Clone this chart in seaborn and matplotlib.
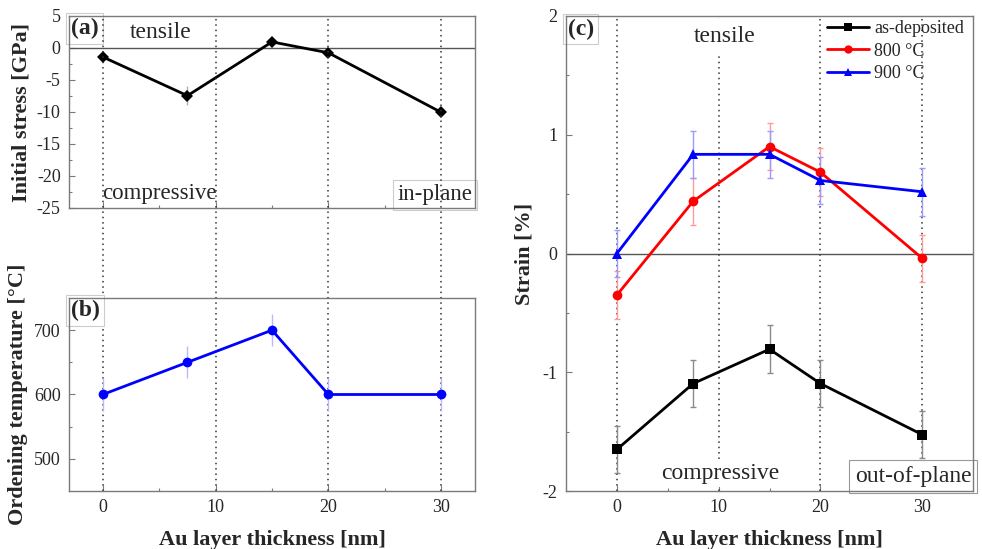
import numpy as np
import pandas as pd
import matplotlib
matplotlib.use("Agg")
import matplotlib.pyplot as plt
import seaborn as sns

# ---------------- data ----------------
thickness = [0, 7.5, 15, 20, 30]
stress = [-1.4, -7.45, 0.95, -0.75, -10.05]
stress_err = [0.3, 1.5, 0.3, 0.4, 0.3]
order_temp = [600, 650, 700, 600, 600]
order_temp_err = [25, 25, 25, 25, 25]
strain_asdep = [-1.65, -1.095, -0.806, -1.095, -1.525]
strain_800 = [-0.35, 0.44, 0.90, 0.685, -0.04]
strain_900 = [0.0, 0.835, 0.835, 0.615, 0.52]
strain_err = [0.2, 0.2, 0.2, 0.2, 0.2]
series_names = ["as-deposited", "800 °C", "900 °C"]
guide_x = [0, 10, 20, 30]

sns.set_theme(style="white")
plt.rcParams['font.family'] = ['Liberation Serif', 'DejaVu Serif']
plt.rcParams['axes.unicode_minus'] = False

SPINE = '#7a7a7a'
W, H = 982, 549
fig = plt.figure(figsize=(W / 100, H / 100), dpi=100)

def frac(l, t, r, b):
    return [l / W, 1 - b / H, (r - l) / W, (b - t) / H]

ax_a = fig.add_axes(frac(69, 16, 475, 208))
ax_b = fig.add_axes(frac(69, 298, 475, 491))
ax_c = fig.add_axes(frac(566, 16, 973, 491))

def style(ax):
    for s in ax.spines.values():
        s.set_color(SPINE)
        s.set_linewidth(1.0)
        s.set_zorder(6)
    ax.tick_params(which='both', direction='in', color=SPINE, labelsize=13,
                   bottom=True, left=True, top=False, right=False, pad=6)
    ax.tick_params(which='major', length=4, width=0.8)
    ax.tick_params(which='minor', length=2.5, width=0.8)

dot_kw = dict(color='#333333', linestyle=(0, (1, 2.5)), linewidth=1.1, zorder=1)
box_kw = dict(boxstyle='square,pad=0.2', facecolor='white', edgecolor='#cccccc', linewidth=0.8)
TXT = 17

# ---------------- panel (a) ----------------
df_a = pd.DataFrame({"x": thickness, "y": stress})
ax_a.errorbar(thickness, stress, yerr=stress_err, fmt='none', ecolor='#b0b0b0',
              elinewidth=1.0, capsize=0, zorder=2)
sns.lineplot(data=df_a, x="x", y="y", ax=ax_a, color='black', marker='D',
             markersize=6.5, linewidth=2, markeredgewidth=0, zorder=3)
ax_a.set_xlim(-3, 33)
ax_a.set_ylim(-25, 5)
ax_a.set_yticks([5, 0, -5, -10, -15, -20, -25])
ax_a.set_yticks(np.arange(-22.5, 5, 5), minor=True)
ax_a.set_xticks([0, 10, 20, 30])
ax_a.set_xticks([5, 15, 25], minor=True)
ax_a.set_xticklabels([])
ax_a.axhline(0, color='#555555', linewidth=1.0, zorder=1)
ax_a.set_xlabel("")
ax_a.set_ylabel("Initial stress [GPa]", fontsize=16, fontweight='bold', labelpad=4)
style(ax_a)
ax_a.text(0.004, 0.99, "(a)", transform=ax_a.transAxes, fontsize=TXT, fontweight='bold',
          va='top', ha='left', bbox=box_kw, zorder=5)
ax_a.text(5.1, 2.4, "tensile", fontsize=TXT, ha='center', va='center', zorder=5)
ax_a.text(-0.1, -22.8, "compressive", fontsize=16.5, ha='left', va='center', zorder=5)
ax_a.text(0.994, 0.015, "in-plane", transform=ax_a.transAxes, fontsize=16.5,
          ha='right', va='bottom', bbox=box_kw, zorder=5)

# ---------------- panel (b) ----------------
df_b = pd.DataFrame({"x": thickness, "y": order_temp})
ax_b.errorbar(thickness, order_temp, yerr=order_temp_err, fmt='none', ecolor='#b8b8ff',
              elinewidth=1.0, capsize=0, zorder=2)
sns.lineplot(data=df_b, x="x", y="y", ax=ax_b, color='#0000ff', marker='o',
             markersize=7, linewidth=2, markeredgewidth=0, zorder=3)
ax_b.set_xlim(-3, 33)
ax_b.set_ylim(450, 750)
ax_b.set_yticks([500, 600, 700])
ax_b.set_yticks([550, 650], minor=True)
ax_b.set_xticks([0, 10, 20, 30])
ax_b.set_xticks([5, 15, 25], minor=True)
ax_b.set_xlabel("Au layer thickness [nm]", fontsize=16, fontweight='bold', labelpad=10)
ax_b.set_ylabel("Ordening temperature [°C]", fontsize=16, fontweight='bold', labelpad=4)
style(ax_b)
ax_b.text(0.004, 0.99, "(b)", transform=ax_b.transAxes, fontsize=TXT, fontweight='bold',
          va='top', ha='left', bbox=box_kw, zorder=5)

# dotted guides across the left column (a) -> gap -> (b)
for gx in guide_x:
    ax_b.axvline(gx, ymin=0, ymax=(491 - 16) / (491 - 298), clip_on=False, **dot_kw)

# ---------------- panel (c) ----------------
df_c = pd.DataFrame({
    "x": thickness * 3,
    "y": strain_asdep + strain_800 + strain_900,
    "series": [series_names[0]] * 5 + [series_names[1]] * 5 + [series_names[2]] * 5,
})
palette = {series_names[0]: 'black', series_names[1]: '#ff0000', series_names[2]: '#0000ff'}
ecol = {series_names[0]: '#8a8a8a', series_names[1]: '#ff9a9a', series_names[2]: '#9a9aff'}
for name, vals in zip(series_names, [strain_asdep, strain_800, strain_900]):
    ax_c.errorbar(thickness, vals, yerr=strain_err, fmt='none', ecolor=ecol[name],
                  elinewidth=1.0, capsize=2, capthick=1.0, zorder=2)
sns.lineplot(data=df_c, x="x", y="y", hue="series", style="series", ax=ax_c,
             palette=palette, markers={series_names[0]: 's', series_names[1]: 'o',
                                       series_names[2]: '^'},
             dashes=False, markersize=7, linewidth=2, markeredgewidth=0, zorder=3)
ax_c.set_xlim(-5, 35)
ax_c.set_ylim(-2, 2)
ax_c.set_yticks([-2, -1, 0, 1, 2])
ax_c.set_yticks([-1.5, -0.5, 0.5, 1.5], minor=True)
ax_c.set_xticks([0, 10, 20, 30])
ax_c.set_xticks([5, 15, 25], minor=True)
ax_c.axhline(0, color='#555555', linewidth=1.0, zorder=1)
for gx in guide_x:
    ax_c.axvline(gx, **dot_kw)
ax_c.set_xlabel("Au layer thickness [nm]", fontsize=16, fontweight='bold', labelpad=10)
ax_c.set_ylabel("Strain [%]", fontsize=16, fontweight='bold', labelpad=6)
style(ax_c)
ax_c.text(0.004, 0.995, "(c)", transform=ax_c.transAxes, fontsize=TXT, fontweight='bold',
          va='top', ha='left', bbox=box_kw, zorder=5)
ax_c.text(10.6, 1.83, "tensile", fontsize=TXT, ha='center', va='center', zorder=5,
          bbox=dict(boxstyle='square,pad=0.3', facecolor='white', edgecolor='none'))
ax_c.text(10.2, -1.85, "compressive", fontsize=TXT, ha='center', va='center', zorder=5,
          bbox=dict(boxstyle='square,pad=0.12', facecolor='white', edgecolor='none'))
ax_c.text(0.996, 0.008, "out-of-plane", transform=ax_c.transAxes, fontsize=TXT,
          ha='right', va='bottom', zorder=5,
          bbox=dict(boxstyle='square,pad=0.25', facecolor='white', edgecolor='#999999',
                    linewidth=0.8))
leg = ax_c.legend(loc='upper right', bbox_to_anchor=(1.0, 1.01), frameon=False,
                  handlelength=2.3, handletextpad=0.3, labelspacing=0.3,
                  borderaxespad=0.1, markerscale=0.85,
                  prop={'family': 'Liberation Serif', 'size': 13})

fig.savefig("out.png", dpi=100)
